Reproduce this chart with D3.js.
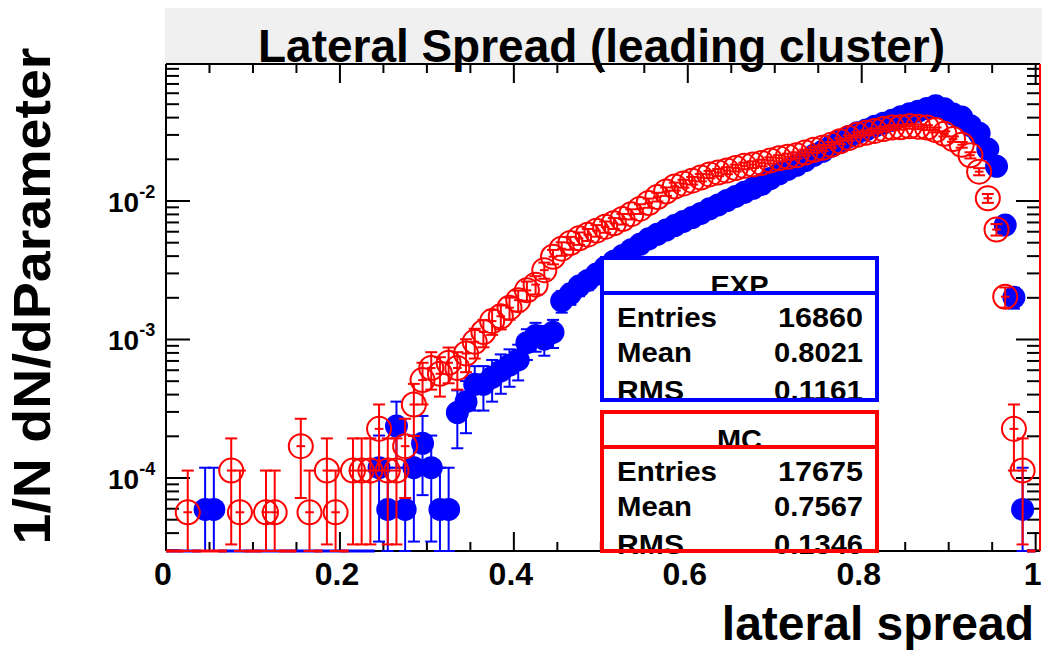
<!DOCTYPE html>
<html><head><meta charset="utf-8">
<script src="https://cdn.jsdelivr.net/npm/d3@7"></script>
<style>body{margin:0;background:#fff;overflow:hidden}</style>
</head><body>
<svg id="c" width="1042" height="653"></svg>
<script>
// ---------------- data ----------------
const nBins = 100, xMin = 0, xMax = 1;
const titleText = "Lateral Spread (leading cluster)";
const xTitle = "lateral spread";
const yTitle = "1/N dN/dParameter";
const xTickValues = [0, 0.2, 0.4, 0.6, 0.8, 1];
const xTickLabels = ["0", "0.2", "0.4", "0.6", "0.8", "1"];
const yDecades = [1e-4, 1e-3, 1e-2];
const yDecadeExps = ["-4", "-3", "-2"];

// EXP (blue, filled) bin contents
const expCounts = [
  0,0,0,0,1,1,0,0,0,0,
  0,0,0,0,0,0,0,0,0,0,
  0,0,0,0,2,1,4,1,2,3,
  2,1,1,5,6,8,8,9,10,11,
  12,16,18,17,19,32,36,41,45,50,
  56,62,68,75,82,90,97,104,112,120,
  128,137,148,158,170,182,195,208,222,245,
  265,285,305,330,360,385,420,455,490,525,
  550,585,615,645,685,720,750,785,820,780,
  715,680,590,520,400,300,113,34,1,0
];
// MC (red, open) bin contents
const mcCounts = [
  0,0,1,0,0,0,0,2,1,0,
  0,1,1,0,0,3,1,0,2,1,
  0,2,2,2,4,2,2,3,6,9,
  11,10,12,11,14,17,20,24,26,30,
  34,40,44,56,70,80,88,95,101,108,
  115,122,131,142,155,171,189,207,225,236,
  248,261,275,284,293,306,317,324,333,347,
  360,369,378,396,414,428,450,477,504,531,
  549,567,585,599,603,612,608,599,576,540,
  495,450,378,288,185,110,36,4,2,0
];
const expEntries = 16860, mcEntries = 17675;
const statNames = ["Entries", "Mean", "RMS"];
const expStatValues = ["16860", "0.8021", "0.1161"];
const mcStatValues = ["17675", "0.7567", "0.1346"];

// ---------------- layout ----------------
const F = {l:166, r:1040, t:64, b:551};
const svg = d3.select("#c");
const FONT = "'Liberation Sans', Arial, Helvetica, sans-serif";

const x = d3.scaleLinear().domain([0, 1.005]).range([F.l, F.r]);
const y = d3.scaleLog().domain([2.971e-5, 0.09754]).range([F.b, F.t]);
const yMin = y.domain()[0];

svg.append("rect").attr("width",1042).attr("height",653).attr("fill","#fff");

// title box
svg.append("rect").attr("x",165).attr("y",8).attr("width",1042-165).attr("height",F.t-8).attr("fill","#f0f0f0");

// clip
svg.append("defs").append("clipPath").attr("id","fr")
  .append("rect").attr("x",F.l-2).attr("y",F.t).attr("width",F.r-F.l+4).attr("height",F.b-F.t+2);

// ---------------- frame & ticks (drawn first, as ROOT does) ----------------
const ax = svg.append("g").attr("stroke","#000").attr("stroke-width",2);
ax.append("line").attr("x1",F.l).attr("x2",F.r).attr("y1",F.t).attr("y2",F.t);
ax.append("line").attr("x1",F.l).attr("x2",F.r).attr("y1",F.b).attr("y2",F.b);
ax.append("line").attr("x1",F.l).attr("x2",F.l).attr("y1",F.t).attr("y2",F.b);

const xMinor = d3.range(0, 21).map(k=>k*0.05);
xMinor.forEach(v=>{
  const major = xTickValues.some(t=>Math.abs(t-v)<1e-9);
  const len = major ? 19 : 9;
  ax.append("line").attr("x1",x(v)).attr("x2",x(v)).attr("y1",F.b).attr("y2",F.b-len);
  ax.append("line").attr("x1",x(v)).attr("x2",x(v)).attr("y1",F.t).attr("y2",F.t+len);
});
const yTicks = [];
for(let e=-5;e<=-1;e++){ for(let k=1;k<=9;k++){ const v=k*Math.pow(10,e); if(v>=yMin && v<=y.domain()[1]) yTicks.push({v:v,major:k===1}); } }
yTicks.forEach(t=>{
  const len = t.major ? 24 : 13;
  const yy = y(t.v);
  ax.append("line").attr("x1",F.l).attr("x2",F.l+len).attr("y1",yy).attr("y2",yy);
  ax.append("line").attr("x1",F.r-len).attr("x2",F.r).attr("y1",yy).attr("y2",yy);
});

// ---------------- histograms ----------------
const binW = (xMax - xMin) / nBins;
function build(counts, N){
  return counts.map((n,i)=>({lo:xMin+i*binW, c:xMin+(i+0.5)*binW, hi:xMin+(i+1)*binW,
    n:n, v:n/N, e:Math.sqrt(n)/N}));
}
const expData = build(expCounts, expEntries);
const mcData = build(mcCounts, mcEntries);

const plot = svg.append("g").attr("clip-path","url(#fr)");

function drawSeries(data, color, filled){
  const g = plot.append("g").attr("stroke",color).attr("stroke-width",2).attr("fill","none");
  data.forEach(d=>{
    const cx = x(d.c);
    if(d.n===0){
      g.append("line").attr("x1",x(d.lo)).attr("x2",x(d.hi)).attr("y1",F.b).attr("y2",F.b).attr("stroke-width",3);
      return;
    }
    const yv = y(d.v);
    const yHi = y(d.v + d.e);
    const lowV = d.v - d.e;
    const yLo = lowV > yMin ? y(lowV) : F.b;
    g.append("line").attr("x1",cx).attr("x2",cx).attr("y1",yLo).attr("y2",yHi);
    g.append("line").attr("x1",cx-6).attr("x2",cx+6).attr("y1",yHi).attr("y2",yHi);
    g.append("line").attr("x1",cx-6).attr("x2",cx+6).attr("y1",yLo).attr("y2",yLo);
    g.append("line").attr("x1",x(d.lo)).attr("x2",x(d.hi)).attr("y1",yv).attr("y2",yv);
  });
  const m = plot.append("g");
  data.filter(d=>d.n>0).forEach(d=>{
    if(filled){
      m.append("circle").attr("cx",x(d.c)).attr("cy",y(d.v)).attr("r",11.5).attr("fill",color);
    } else {
      m.append("circle").attr("cx",x(d.c)).attr("cy",y(d.v)).attr("r",12).attr("fill","none")
        .attr("stroke",color).attr("stroke-width",2);
    }
  });
}
drawSeries(expData, "#0000ff", true);
drawSeries(mcData, "#ff0000", false);

// right edge (red, as in reference)
svg.append("line").attr("x1",F.r).attr("x2",F.r).attr("y1",F.t).attr("y2",F.b)
  .attr("stroke","#ff0000").attr("stroke-width",2);

// x tick labels
xTickValues.forEach((v,i)=>{
  svg.append("text").attr("x",x(v)-3).attr("y",585).attr("text-anchor","middle")
    .attr("font-family",FONT).attr("font-weight","bold").attr("font-size",32).text(xTickLabels[i]);
});
// y tick labels: 10 with superscript exponent, as one text
yDecades.forEach((v,i)=>{
  const yy = y(v);
  const t = svg.append("text").attr("x",108).attr("y",yy+11)
    .attr("font-family",FONT).attr("font-weight","bold");
  t.append("tspan").attr("font-size",28).text("10");
  t.append("tspan").attr("font-size",18).attr("dy",-14).text(yDecadeExps[i]);
});

// titles
svg.append("text").attr("x",258).attr("y",62).attr("font-family",FONT).attr("font-weight","bold")
  .attr("font-size",46).attr("textLength",687).attr("lengthAdjust","spacingAndGlyphs").text(titleText);
svg.append("text").attr("x",1034).attr("y",640).attr("text-anchor","end").attr("font-family",FONT)
  .attr("font-weight","bold").attr("font-size",48).text(xTitle);
svg.append("text").attr("transform","translate(50,296) rotate(-90)").attr("text-anchor","middle")
  .attr("font-family",FONT).attr("font-weight","bold").attr("font-size",52)
  .attr("textLength",497).attr("lengthAdjust","spacingAndGlyphs").text(yTitle);

// ---------------- stats boxes ----------------
const nameW = [100, 75, 67];
function statBox(top, bottom, divY, name, nameWidth, values, valueW, color){
  const L=602, R=877;
  const g = svg.append("g");
  g.append("rect").attr("x",L).attr("y",top).attr("width",R-L).attr("height",bottom-top).attr("fill","#fff");
  g.append("text").attr("x",(L+R)/2).attr("y",divY+2).attr("text-anchor","middle")
    .attr("font-family",FONT).attr("font-size",28).attr("font-weight","bold")
    .attr("textLength",nameWidth).attr("lengthAdjust","spacingAndGlyphs").text(name);
  const rowY = [divY+34, divY+69, divY+107];
  statNames.forEach((s,i)=>{
    g.append("text").attr("x",617).attr("y",rowY[i]).attr("font-family",FONT).attr("font-size",28)
      .attr("font-weight","bold").attr("textLength",nameW[i]).attr("lengthAdjust","spacingAndGlyphs").text(s);
    g.append("text").attr("x",863-valueW[i]).attr("y",rowY[i]).attr("font-family",FONT)
      .attr("font-size",28).attr("font-weight","bold").attr("textLength",valueW[i])
      .attr("lengthAdjust","spacingAndGlyphs").text(values[i]);
  });
  g.append("rect").attr("x",L).attr("y",top).attr("width",R-L).attr("height",bottom-top)
    .attr("fill","none").attr("stroke",color).attr("stroke-width",4);
  g.append("line").attr("x1",L).attr("x2",R).attr("y1",divY).attr("y2",divY).attr("stroke",color).attr("stroke-width",4);
}
statBox(258, 400, 293, "EXP", 58, expStatValues, [85, 89, 89], "#0000ff");
statBox(412, 551, 447, "MC", 45, mcStatValues, [85, 89, 89], "#ff0000");
</script>
</body></html>
